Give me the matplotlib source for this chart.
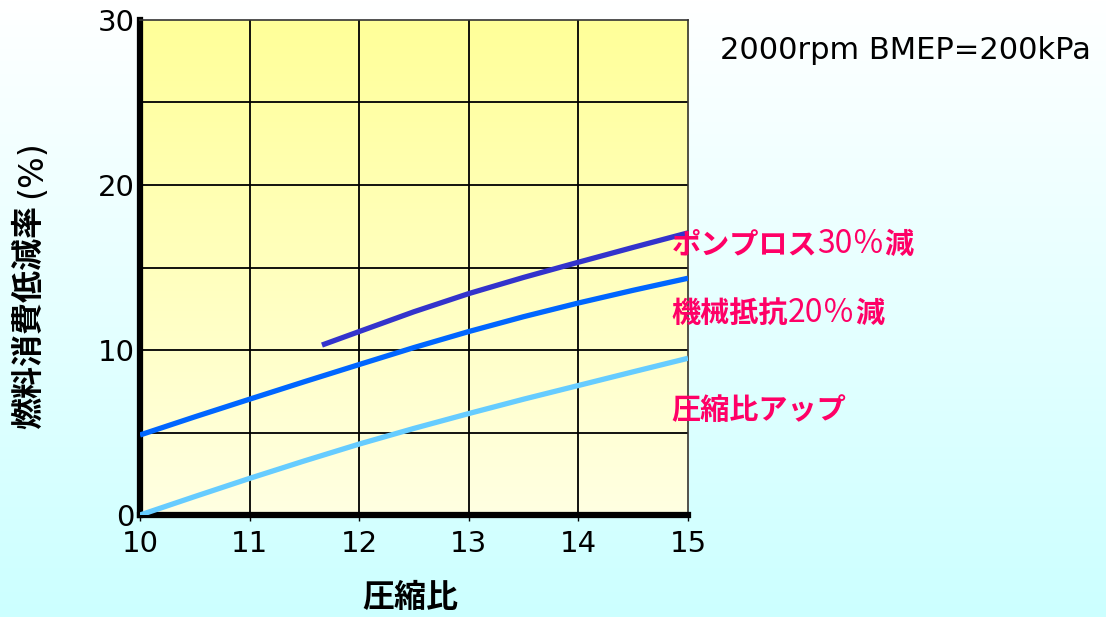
import numpy as np
import matplotlib
matplotlib.use("Agg")
import matplotlib.pyplot as plt
from matplotlib.colors import LinearSegmentedColormap

plt.rcParams['font.family'] = ['Noto Sans CJK JP', 'DejaVu Sans']

# === Data ===
x_ratio = [10, 10.5, 11, 11.5, 12, 12.5, 13, 13.5, 14, 14.5, 15]
cr_up = [0.0, 1.12, 2.22, 3.28, 4.3, 5.25, 6.15, 7.02, 7.85, 8.68, 9.5]           # 圧縮比アップ
mech_20 = [4.85, 5.95, 7.02, 8.08, 9.12, 10.15, 11.12, 12.02, 12.85, 13.62, 14.35]  # 機械抵抗20%減
pump_x = [11.66, 12, 12.5, 13, 13.5, 14, 14.5, 15]
pump_30 = [10.3, 11.12, 12.32, 13.42, 14.4, 15.32, 16.22, 17.1]                    # ポンプロス30%減

xticks = [10, 11, 12, 13, 14, 15]
yticks = [0, 10, 20, 30]

PINK = "#FF0066"

fig = plt.figure(figsize=(11.06, 6.17), dpi=100)

# figure background gradient (white -> light cyan)
bg = fig.add_axes([0, 0, 1, 1], zorder=-10)
bg_cmap = LinearSegmentedColormap.from_list("bg", ["#CCFFFF", "#FFFFFF"])
bg.imshow(np.linspace(0, 1, 256)[::-1].reshape(-1, 1), cmap=bg_cmap,
          aspect="auto", extent=[0, 1, 0, 1])
bg.axis("off")

ax = fig.add_axes([0.1266, 0.1653, 0.4955, 0.8023])
ax.set_xlim(10, 15)
ax.set_ylim(0, 30)

# axes background gradient (yellow -> pale yellow)
ax_cmap = LinearSegmentedColormap.from_list("ax", ["#FFFFE2", "#FFFF99"])
ax.imshow(np.linspace(0, 1, 256)[::-1].reshape(-1, 1), cmap=ax_cmap,
          aspect="auto", extent=[10, 15, 0, 30], zorder=0)

# grid
for gx in xticks[1:-1]:
    ax.axvline(gx, color="black", lw=1.3, zorder=1)
for gy in range(5, 30, 5):
    ax.axhline(gy, color="black", lw=1.3, zorder=1)

# curves
ax.plot(x_ratio, cr_up, color="#66CCFF", lw=3.8, zorder=3, solid_capstyle="butt")
ax.plot(x_ratio, mech_20, color="#0066FF", lw=3.8, zorder=3, solid_capstyle="butt")
ax.plot(pump_x, pump_30, color="#3333CC", lw=3.8, zorder=3, solid_capstyle="butt")

# spines
for s in ["left", "bottom"]:
    ax.spines[s].set_linewidth(4.5)
    ax.spines[s].set_color("black")
for s in ["top", "right"]:
    ax.spines[s].set_linewidth(1.2)
    ax.spines[s].set_color("#333333")

ax.set_xticks(xticks)
ax.set_yticks(yticks)
ax.set_xticklabels([str(v) for v in xticks], fontsize=21, family="DejaVu Sans")
ax.set_yticklabels([str(v) for v in yticks], fontsize=21, family="DejaVu Sans")
ax.tick_params(axis="x", length=4, width=1, pad=7, color="black")
ax.tick_params(axis="y", length=0, pad=4)


def mixed(parts, x, y, size=21):
    """Draw text pieces with different weights one after another."""
    txt, wt, sz = parts[0]
    prev = ax.text(x, y, txt, fontweight=wt, color=PINK, fontsize=sz,
                   va="center", ha="left", clip_on=False)
    for txt, wt, sz in parts[1:]:
        prev = ax.annotate(txt, xy=(1, 0.5), xycoords=prev, va="center",
                           ha="left", fontweight=wt, color=PINK, fontsize=sz,
                           annotation_clip=False)


mixed([("ポンプロス", "bold", 21), ("30％", "normal", 23), ("減", "bold", 21)], 14.85, 16.4)
mixed([("機械抵抗", "bold", 21), ("20％", "normal", 23), ("減", "bold", 21)], 14.85, 12.25)
mixed([("圧縮比アップ", "bold", 21)], 14.85, 6.35)

fig.text(0.651, 0.918, "2000rpm BMEP=200kPa", fontsize=22, family="DejaVu Sans",
         va="center", ha="left")

# axis labels
fig.text(0.371, 0.03, "圧縮比", fontsize=23, fontweight="bold", ha="center", va="center")
yl = fig.text(0.026, 0.486, "燃料消費低減率", fontsize=23, fontweight="bold",
              rotation=90, ha="center", va="center")
bg.annotate("(%)", xy=(0.5, 1), xycoords=yl, xytext=(2, 5),
            textcoords="offset points", rotation=90, fontsize=24,
            family="DejaVu Sans", ha="center", va="bottom", annotation_clip=False)

fig.savefig("out.png", dpi=100)
